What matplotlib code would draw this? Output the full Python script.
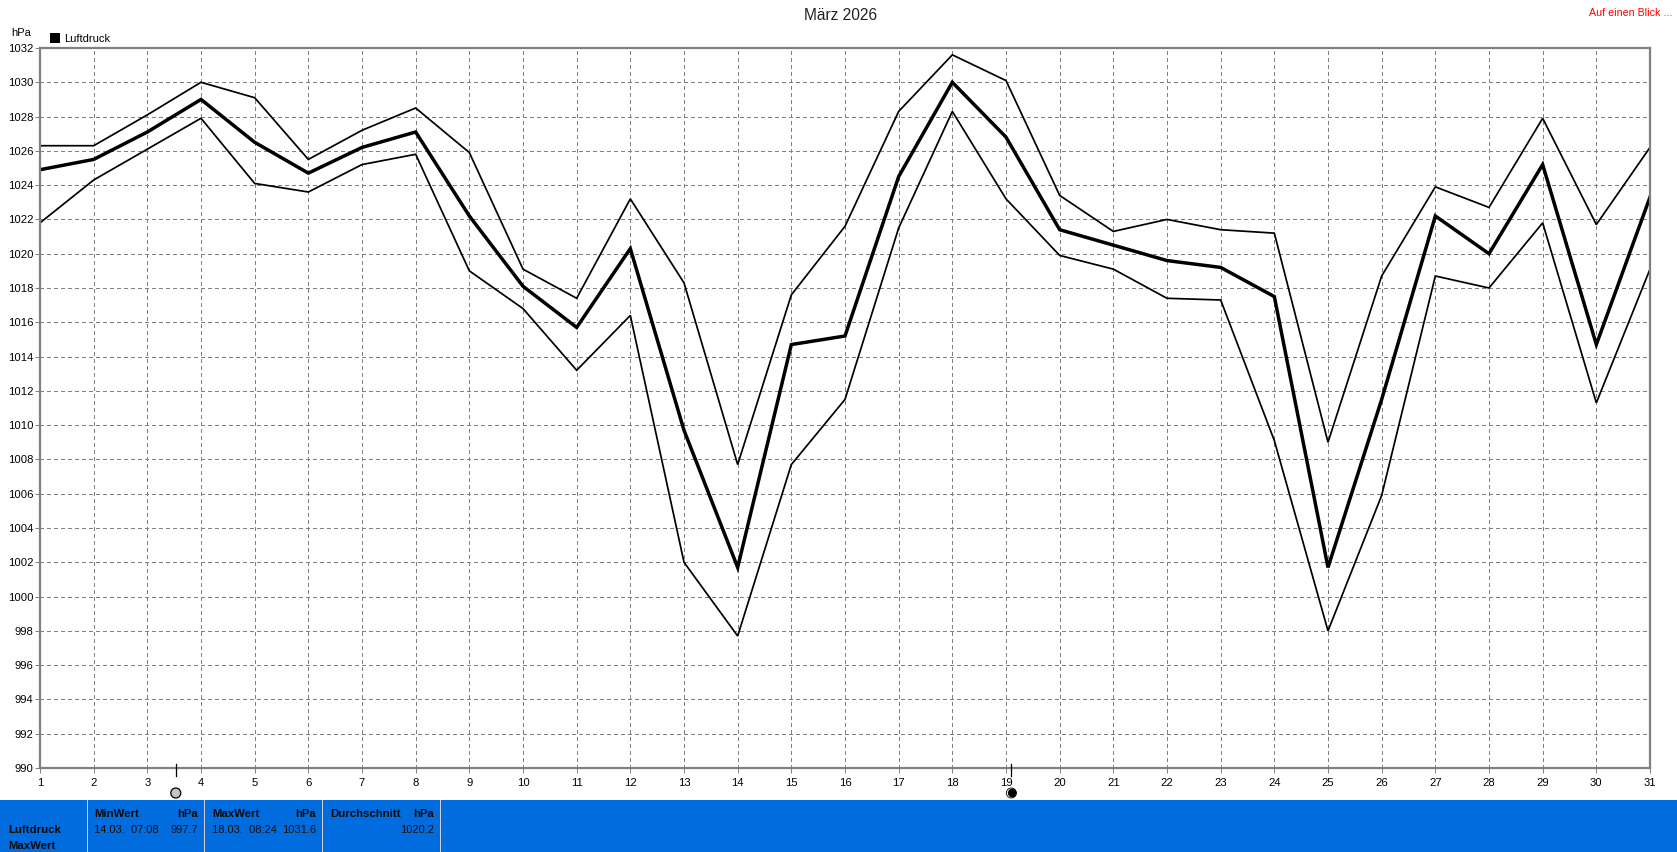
import matplotlib
matplotlib.use("Agg")
import matplotlib.pyplot as plt
from matplotlib.patches import Rectangle, Circle

days = list(range(1, 32))
mean_vals = [1024.9,1025.5,1027.1,1029.0,1026.5,1024.7,1026.2,1027.1,1022.2,1018.1,1015.7,1020.3,1009.7,1001.7,1014.7,1015.2,1024.5,1030.0,1026.8,1021.4,1020.5,1019.6,1019.2,1017.5,1001.7,1011.5,1022.2,1020.0,1025.2,1014.7,1023.3]
max_vals = [1026.3,1026.3,1028.1,1030.0,1029.1,1025.5,1027.2,1028.5,1025.9,1019.1,1017.4,1023.2,1018.3,1007.7,1017.6,1021.6,1028.3,1031.6,1030.1,1023.4,1021.3,1022.0,1021.4,1021.2,1009.0,1018.7,1023.9,1022.7,1027.9,1021.7,1026.2]
min_vals = [1021.8,1024.3,1026.1,1027.9,1024.1,1023.6,1025.2,1025.8,1019.0,1016.8,1013.2,1016.4,1002.0,997.7,1007.7,1011.5,1021.5,1028.3,1023.2,1019.9,1019.1,1017.4,1017.3,1009.1,998.0,1005.9,1018.7,1018.0,1021.8,1011.3,1019.1]
y_ticks = list(range(990, 1034, 2))
moon_days = [3.53, 19.1]

W, H = 1677, 852
plt.rcParams["font.family"] = "Liberation Sans"
fig = plt.figure(figsize=(W/100, H/100), dpi=100, facecolor="white")
L, R, T, B = 40, 1650, 48, 768
ax = fig.add_axes([L/W, 1-B/H, (R-L)/W, (B-T)/H])
ax.set_xlim(1, 31); ax.set_ylim(990, 1032)
ax.set_xticks(days); ax.set_yticks(y_ticks)
ax.grid(True, color="#808080", ls=(0, (4, 3)), lw=0.72, antialiased=False)
ax.set_axisbelow(True)
for s in ax.spines.values():
    s.set_color("#808080"); s.set_linewidth(1.6)
ax.tick_params(axis="both", labelsize=8.1, length=3.6, width=0.72, color="#808080", pad=1)
ax.tick_params(axis="x", pad=3.4)

ax.plot(days, max_vals, color="black", lw=1.25, solid_joinstyle="miter")
ax.plot(days, min_vals, color="black", lw=1.25, solid_joinstyle="miter")
ax.plot(days, mean_vals, color="black", lw=2.5, solid_joinstyle="miter")

def t(x, y, s, **k):
    k.setdefault("fontsize", 8.0); k.setdefault("va", "center")
    return fig.text(x/W, 1-y/H, s, **k)

t(841, 16, "März 2026", fontsize=11.2, ha="center", color="#222222")
t(1672, 13, "Auf einen Blick ...", color="red", ha="right", fontsize=7.7)
t(11, 33, "hPa")
fig.add_artist(Rectangle((50/W, 1-43/H), 10/W, 10/H, transform=fig.transFigure, color="black", lw=0))
t(64, 38.5, "Luftdruck")

# moon markers
tick_above = 4/(B-T)
tick_below = 8/(B-T)
for i, d in enumerate(moon_days):
    px = L + (d-1)/30*(R-L)
    ax.plot([d, d], [-tick_below, tick_above], transform=ax.get_xaxis_transform(), color="black", lw=0.9, clip_on=False, zorder=5)
    if i == 0:
        fig.add_artist(Circle((px, H-793), 5, transform=None, fc="#c4c4c4", ec="black", lw=0.9))
    else:
        fig.add_artist(Circle((px, H-793), 5, transform=None, fc="white", ec="black", lw=0.6))
        fig.add_artist(Circle((px+0.9, H-793), 4.4, transform=None, fc="black", ec="black", lw=0))

# bottom band
fig.add_artist(Rectangle((0, 0), 1, 52/H, transform=fig.transFigure, color="#006CDD", lw=0))
for sx in (87, 204, 322, 440):
    fig.add_artist(Rectangle((sx/W, 0), 1.4/W, 52/H, transform=fig.transFigure, color="#d0d0d0", lw=0))

bold = dict(fontweight="bold", color="#0a0a0a", fontsize=8.2)
t(8, 830, "Luftdruck", **bold)
t(8, 846, "MaxWert", **bold)
t(94, 814, "MinWert", **bold)
t(198, 814, "hPa", ha="right", **bold)
t(94, 830, "14.03.  07:08", color="#101010")
t(198, 830, "997.7", ha="right", color="#101010")
t(212, 814, "MaxWert", **bold)
t(316, 814, "hPa", ha="right", **bold)
t(212, 830, "18.03.  08:24", color="#101010")
t(316, 830, "1031.6", ha="right", color="#101010")
t(330, 814, "Durchschnitt", **bold)
t(434, 814, "hPa", ha="right", **bold)
t(434, 830, "1020.2", ha="right", color="#101010")

fig.savefig("out.png", dpi=100)
